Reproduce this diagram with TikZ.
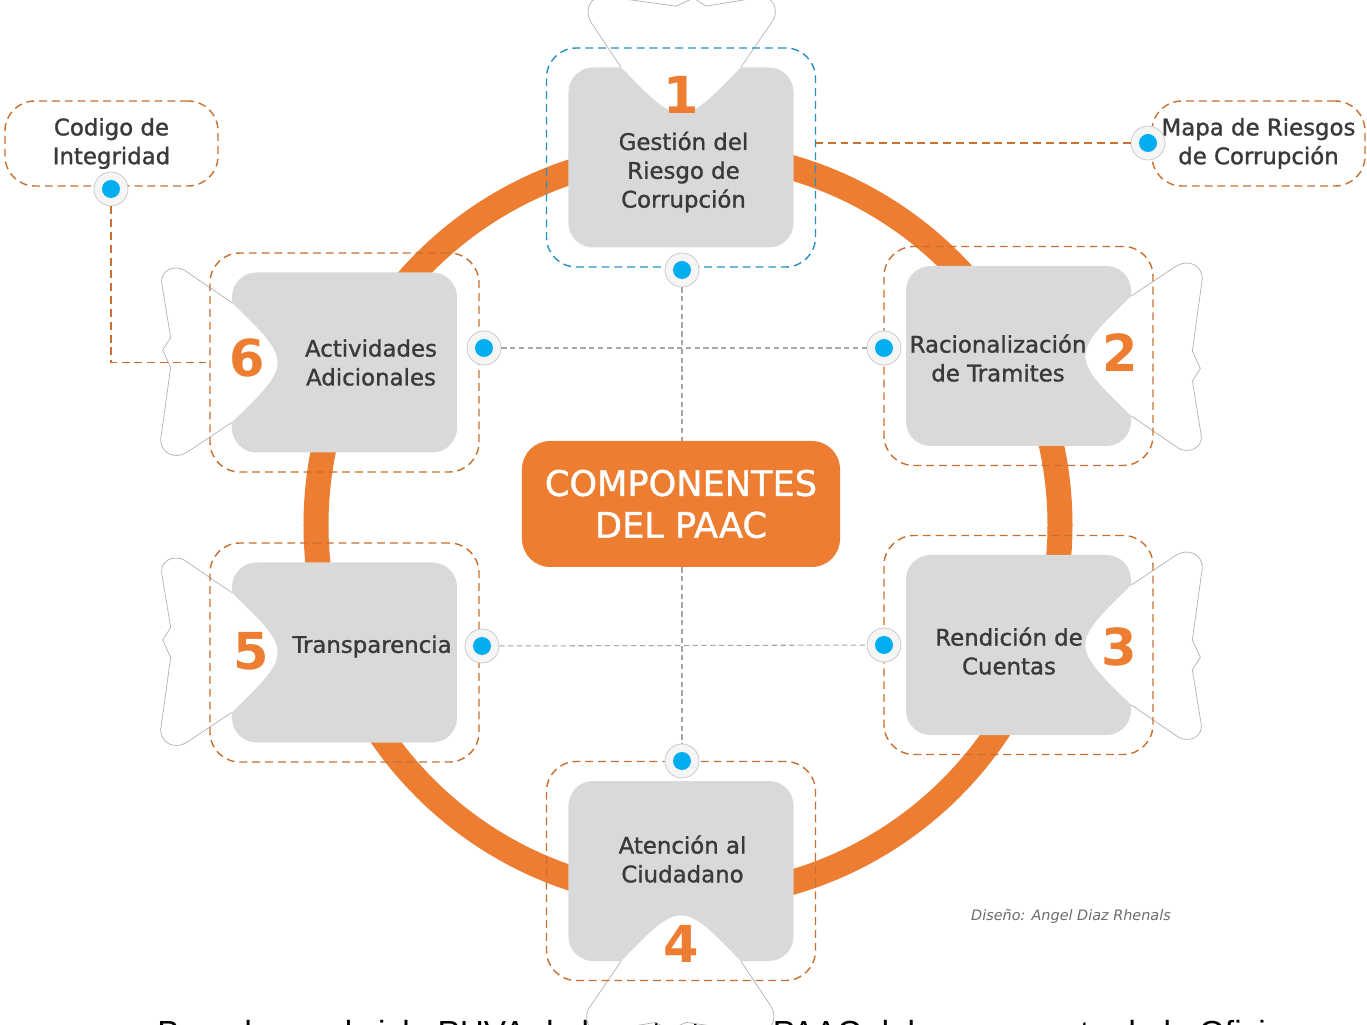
\documentclass[tikz,border=0pt]{standalone}
\usepackage{fontspec}
\setmainfont{DejaVu Sans}
\newfontfamily\lblfont[FakeBold=1.2]{DejaVu Sans}
\newfontfamily\notefont{Liberation Sans}
\usetikzlibrary{positioning, calc}

\definecolor{paacorange}{HTML}{ED7D31}
\definecolor{boxgray}{HTML}{D9D9D9}
\definecolor{labelgray}{HTML}{3A3A3A}
\definecolor{dashorange}{HTML}{C8702F}
\definecolor{dashblue}{HTML}{2A8FC4}
\definecolor{dotblue}{HTML}{00AEEF}

\begin{document}
\begin{tikzpicture}[
  comp/.style={fill=boxgray, rounded corners=14pt, minimum width=4.5cm, minimum height=3.6cm, inner sep=0pt},
  halo/.style={draw=dashorange, line width=0.8pt, dash pattern=on 4.5pt off 2.8pt, rounded corners=17pt, minimum width=5.38cm, minimum height=4.38cm, inner sep=0pt},
  lbl/.style={align=center, text=labelgray, font=\lblfont\fontsize{13}{16.4}\selectfont},
  num/.style={text=paacorange, font=\fontsize{29}{29}\selectfont\bfseries, inner sep=0pt},
  hub/.style={circle, fill=gray!8, draw=gray!45, line width=0.4pt, minimum size=0.68cm, inner sep=0pt,
    path picture={\fill[dotblue] (path picture bounding box.center) circle (0.18cm);}},
  link/.style={draw=gray!70, line width=0.6pt, dash pattern=on 3pt off 2pt},
  side/.style={draw=dashorange, line width=0.8pt, dash pattern=on 4.5pt off 2.8pt},
  tab/.pic={
    \fill[white] (0,1.2) .. controls (0.45,0.75) and (0.92,0.35) .. (0.92,0) .. controls (0.92,-0.35) and (0.45,-0.75) .. (0,-1.2)
      -- (-0.9,-1.8) .. controls (-1.15,-1.95) and (-1.42,-1.8) .. (-1.42,-1.55)
      -- (-1.22,-0.1) -- (-1.38,0.25) -- (-1.22,0.5)
      -- (-1.4,1.6) .. controls (-1.42,1.85) and (-1.15,1.95) .. (-0.95,1.85) -- cycle;
    \draw[gray!60, line width=0.4pt] (0,-1.2)
      -- (-0.9,-1.8) .. controls (-1.15,-1.95) and (-1.42,-1.8) .. (-1.42,-1.55)
      -- (-1.22,-0.1) -- (-1.38,0.25) -- (-1.22,0.5)
      -- (-1.4,1.6) .. controls (-1.42,1.85) and (-1.15,1.95) .. (-0.95,1.85) -- (0,1.2);
  }
]

\fill[white] (-13.67,-10.25) rectangle (13.67,10.25);
\useasboundingbox (-13.67,-10.25) rectangle (13.67,10.25);

% line of text cut off at the bottom edge
\node[anchor=base west, inner sep=0pt, font=\notefont\fontsize{19}{23}\selectfont] (note) at (-10.53,-10.63)
  {Basado en el ciclo PHVA de la estrategia PAAC del componente de la Oficina};

% ring
\draw[paacorange, line width=0.5cm] (0.09,-0.25) circle (7.44cm);

% components
\node[comp] (b1) at (-0.05, 7.1) {};
\node[comp] (b2) at (6.7, 3.13) {};
\node[comp] (b3) at (6.7, -2.65) {};
\node[comp] (b4) at (-0.05, -7.17) {};
\node[comp] (b5) at (-6.78, -2.8) {};
\node[comp] (b6) at (-6.78, 3.0) {};

\pic[rotate=-90] at (b1.north) {tab};
\pic[rotate=180] at (b2.east) {tab};
\pic[rotate=180] at (b3.east) {tab};
\pic[rotate=90] at (b4.south) {tab};
\pic at (b5.west) {tab};
\pic at (b6.west) {tab};

\node[halo, draw=dashblue] (o1) at (b1) {};
\node[halo] (o2) at (b2) {};
\node[halo] (o3) at (b3) {};
\node[halo] (o4) at (b4) {};
\node[halo] (o5) at (b5) {};
\node[halo] (o6) at (b6) {};

\node[num] (n1) at ($(b1.north)+(0,-0.55)$) {1};
\node[num] (n2) at ($(b2.east)+(-0.22,0.06)$) {2};
\node[num] (n3) at ($(b3.east)+(-0.24,-0.04)$) {3};
\node[num] (n4) at ($(b4.south)+(0,0.34)$) {4};
\node[num] (n5) at ($(b5.west)+(0.4,0.02)$) {5};
\node[num] (n6) at ($(b6.west)+(0.32,0.1)$) {6};

\node[lbl] (t1) at ($(b1)+(0.05,-0.29)$) {Gestión del\\Riesgo de\\Corrupción};
\node[lbl] (t2) at ($(b2)+(-0.41,-0.04)$) {Racionalización\\de Tramites};
\node[lbl] (t3) at ($(b3)+(-0.19,-0.12)$) {Rendición de\\Cuentas};
\node[lbl] (t4) at ($(b4)+(0.03,0.24)$) {Atención al\\Ciudadano};
\node[lbl] (t5) at ($(b5)+(0.55,0.12)$) {Transparencia};
\node[lbl] (t6) at ($(b6)+(0.53,0)$) {Actividades\\Adicionales};

\node[fill=paacorange, rounded corners=16pt, minimum width=6.36cm, minimum height=2.52cm, text=white, align=center,
  font=\lblfont\fontsize{20}{23.8}\selectfont] (core) at (-0.05, 0.17) {COMPONENTES\\DEL PAAC};

% side notes
\node[halo, minimum width=4.26cm, minimum height=1.7cm, lbl] (codigo) at (-11.44, 7.38) {Codigo de\\Integridad};
\node[halo, minimum width=4.26cm, minimum height=1.7cm, lbl] (mapa) at (11.5, 7.38) {Mapa de Riesgos\\de Corrupción};

% hubs
\node[hub] (h1) at (-0.03, 4.85) {};
\node[hub] (h2) at (4.01, 3.29) {};
\node[hub] (h3) at (4.01, -2.65) {};
\node[hub] (h4) at (-0.03, -4.97) {};
\node[hub] (h5) at (-4.03, -2.67) {};
\node[hub] (h6) at (-3.99, 3.29) {};
\node[hub] (hc) at (-11.45, 6.47) {};
\node[hub] (hm) at (9.29, 7.39) {};

\draw[link] (h6) -- (h2);
\draw[link] (h5) -- (h3);
\draw[link] (h1) -- (h1 |- core.north);
\draw[link] (h4 |- core.south) -- (h4);
\draw[side] (hc) |- (o6.west);
\draw[side] (hm) -- (hm -| o1.east);

\node[text=gray!85!black, font=\fontsize{8.2}{10}\selectfont\itshape] (credit) at (7.75, -8.07) {Diseño: Angel Diaz Rhenals};

\end{tikzpicture}
\end{document}
